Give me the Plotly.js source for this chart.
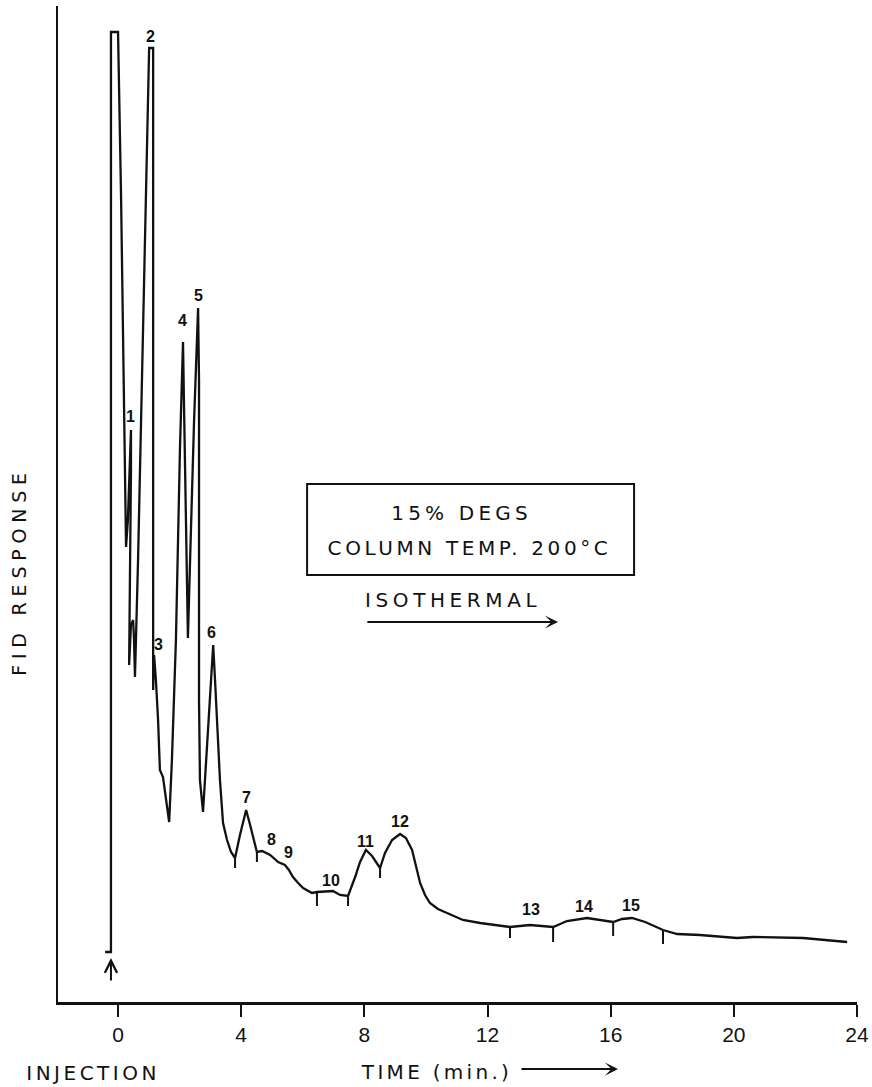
<!DOCTYPE html>
<html>
<head>
<meta charset="utf-8">
<script src="https://cdn.plot.ly/plotly-3.0.1.min.js"></script>
<style>
  html, body { margin: 0; padding: 0; background: #fff; }
  #chart { width: 872px; height: 1087px; }
</style>
</head>
<body>
<div id="chart"></div>
<script>
// ---- data ----
const times = [-0.42, -0.23, -0.23, 0.00, 0.10, 0.16, 0.23, 0.26, 0.32, 0.42, 0.42, 0.39, 0.36, 0.42, 0.49, 0.52, 0.55,
  0.65, 0.75, 0.81, 0.91, 1.01, 1.14, 1.14, 1.17, 1.23, 1.30, 1.36, 1.46, 1.56, 1.66, 1.75, 1.88, 2.01, 2.11, 2.14,
  2.21, 2.27, 2.34, 2.47, 2.60, 2.63, 2.63, 2.66, 2.76, 2.86, 2.99, 3.09, 3.15, 3.25, 3.31, 3.41, 3.54, 3.67, 3.80,
  3.96, 4.16, 4.29, 4.42, 4.51, 4.68, 4.84, 4.94, 5.20, 5.42, 5.55, 5.68, 5.85, 6.01, 6.30, 6.46, 6.98, 7.21, 7.47,
  7.57, 7.70, 7.86, 8.05, 8.25, 8.51, 8.67, 8.90, 9.16, 9.35, 9.55, 9.68, 9.81, 9.97, 10.13, 10.39, 10.69, 11.20,
  11.76, 12.24, 12.73, 13.38, 14.13, 14.36, 14.58, 15.23, 15.65, 16.08, 16.37, 16.69, 17.12, 17.44, 17.70, 18.16,
  18.90, 20.10, 20.62, 22.25, 23.68];
const response = [5.0, 5.0, 97.0, 97.0, 80.2, 65.2, 52.2, 45.5, 48.2, 57.2, 53.2, 40.2, 33.7, 37.7, 38.2, 36.2, 32.5,
  44.2, 58.2, 66.2, 82.2, 95.4, 95.4, 31.2, 34.7, 32.2, 28.2, 23.2, 22.5, 20.2, 18.0, 24.2, 36.2, 55.2, 66.0, 60.2,
  45.2, 36.4, 44.2, 58.2, 69.4, 62.2, 30.2, 22.2, 19.0, 24.2, 31.2, 35.7, 32.2, 26.2, 22.2, 17.9, 16.2, 15.0, 14.4,
  16.7, 19.2, 17.7, 16.0, 15.0, 15.1, 14.9, 14.7, 14.0, 13.7, 13.2, 12.5, 11.9, 11.4, 10.9, 11.0, 11.1, 10.7, 10.6,
  11.4, 12.5, 14.0, 15.2, 14.6, 13.4, 14.9, 16.2, 16.8, 16.4, 15.2, 13.6, 11.9, 10.7, 9.9, 9.3, 8.9, 8.2,
  7.9, 7.7, 7.5, 7.7, 7.5, 7.8, 8.1, 8.4, 8.2, 8.0, 8.3, 8.4, 8.0, 7.6, 7.2, 6.8,
  6.7, 6.4, 6.5, 6.4, 6.0];

// integration marks (short drop lines under the trace)
const markTimes  = [3.80, 4.51, 6.46, 7.47, 8.51, 12.73, 14.13, 16.08, 17.70];
const markTop    = [14.4, 15.0, 11.0, 10.6, 13.4, 7.5, 7.5, 8.0, 7.2];
const markBottom = [13.4, 14.0, 9.6, 9.6, 12.4, 6.4, 6.0, 6.6, 5.8];

// peak numbers
const peakLabels = ['1','2','3','4','5','6','7','8','9','10','11','12','13','14','15'];
const peakLabelX = [0.39, 1.04, 1.30, 2.08, 2.60, 3.05, 4.16, 4.97, 5.52, 6.92, 8.05, 9.16, 13.41, 15.13, 16.66];
const peakLabelY = [58.6, 96.6, 35.8, 68.2, 70.7, 37.0, 20.5, 16.3, 15.0, 12.2, 16.1, 18.1, 9.3, 9.6, 9.7];

// axis ticks
const tickValues = [0, 4, 8, 12, 16, 20, 24];
const tickLabels = ['0', '4', '8', '12', '16', '20', '24'];

// ---- build ----
const markX = [], markY = [];
markTimes.forEach((t, i) => { markX.push(t, t, null); markY.push(markTop[i], markBottom[i], null); });

const INK = '#111';
const TXT = 'DejaVu Sans, Liberation Sans, sans-serif';

const traces = [
  { x: times, y: response, type: 'scatter', mode: 'lines', line: { color: INK, width: 2.3 }, hoverinfo: 'skip', cliponaxis: false },
  { x: markX, y: markY, type: 'scatter', mode: 'lines', line: { color: INK, width: 2 }, hoverinfo: 'skip' }
];

const annotations = peakLabels.map((s, i) => ({
  x: peakLabelX[i], y: peakLabelY[i], xref: 'x', yref: 'y', text: s, showarrow: false,
  xanchor: 'center', yanchor: 'middle',
  font: { family: 'Liberation Sans, Arial, sans-serif', size: 16, color: INK, weight: 'bold' }
}));

annotations.push(
  { x: 11.17, y: 48.9, xref: 'x', yref: 'y', text: '15% DEGS', showarrow: false, xanchor: 'center', yanchor: 'middle',
    font: { family: TXT, size: 20, color: INK } },
  { x: 11.40, y: 45.4, xref: 'x', yref: 'y', text: 'COLUMN TEMP. 200°C', showarrow: false, xanchor: 'center', yanchor: 'middle',
    font: { family: TXT, size: 20, color: INK } },
  { x: 10.91, y: 40.2, xref: 'x', yref: 'y', text: 'ISOTHERMAL', showarrow: false, xanchor: 'center', yanchor: 'middle',
    font: { family: TXT, size: 20, color: INK } },
  { x: 14.29, y: 38.0, xref: 'x', yref: 'y', ax: 8.05, ay: 38.0, axref: 'x', ayref: 'y', text: '', showarrow: true,
    arrowhead: 3, arrowsize: 1.1, arrowwidth: 2, arrowcolor: INK },
  { x: 0.4737, y: -0.0703, xref: 'paper', yref: 'paper', text: 'TIME (min.)', showarrow: false, xanchor: 'center', yanchor: 'middle',
    font: { family: TXT, size: 20, color: INK } },
  { x: 0.7009, y: -0.0673, xref: 'paper', yref: 'paper', ax: -98, ay: 0, axref: 'pixel', ayref: 'pixel', text: '', showarrow: true,
    arrowhead: 3, arrowsize: 1.1, arrowwidth: 2, arrowcolor: INK },
  { x: 0.0438, y: -0.0713, xref: 'paper', yref: 'paper', text: 'INJECTION', showarrow: false, xanchor: 'center', yanchor: 'middle',
    font: { family: TXT, size: 20, color: INK } },
  { x: -0.0488, y: 0.4317, xref: 'paper', yref: 'paper', text: 'FID RESPONSE', showarrow: false, xanchor: 'center', yanchor: 'middle',
    textangle: -90, font: { family: TXT, size: 19, color: INK } },
  { x: -0.23, y: 4.4, xref: 'x', yref: 'y', ax: 0, ay: 24, text: '', showarrow: true,
    arrowhead: 5, arrowsize: 1.2, arrowwidth: 2, arrowcolor: INK }
);

const layout = {
  width: 872, height: 1087,
  margin: { l: 58, r: 15, t: 6, b: 85, pad: 0 },
  paper_bgcolor: '#fff', plot_bgcolor: '#fff',
  showlegend: false,
  xaxis: {
    range: [-1.95, 24], showgrid: false, zeroline: false,
    showline: true, linecolor: INK, linewidth: 2.5,
    tickmode: 'array', tickvals: tickValues, ticktext: tickLabels,
    ticks: 'outside', ticklen: 12, tickwidth: 2, tickcolor: INK,
    tickfont: { family: 'Liberation Sans, Arial, sans-serif', size: 21, color: INK }
  },
  yaxis: {
    range: [0, 99.6], showgrid: false, zeroline: false,
    showline: true, linecolor: INK, linewidth: 2.5,
    ticks: '', showticklabels: false
  },
  shapes: [
    { type: 'rect', xref: 'x', yref: 'y', x0: 6.14, x1: 16.76, y0: 42.7, y1: 51.8,
      line: { color: INK, width: 2 }, fillcolor: 'rgba(0,0,0,0)' }
  ],
  annotations: annotations
};

const spacing = {
  'TIME (min.)': '3.3px', 'INJECTION': '3.5px', 'ISOTHERMAL': '4.6px',
  '15% DEGS': '4.2px', 'COLUMN TEMP. 200°C': '3.6px', 'FID RESPONSE': '5.8px'
};

Plotly.newPlot('chart', traces, layout, { displayModeBar: false, staticPlot: true }).then(() => {
  document.querySelectorAll('#chart .annotation-text').forEach(el => {
    const s = spacing[el.textContent];
    if (s) el.style.letterSpacing = s;
  });
});
</script>
</body>
</html>
